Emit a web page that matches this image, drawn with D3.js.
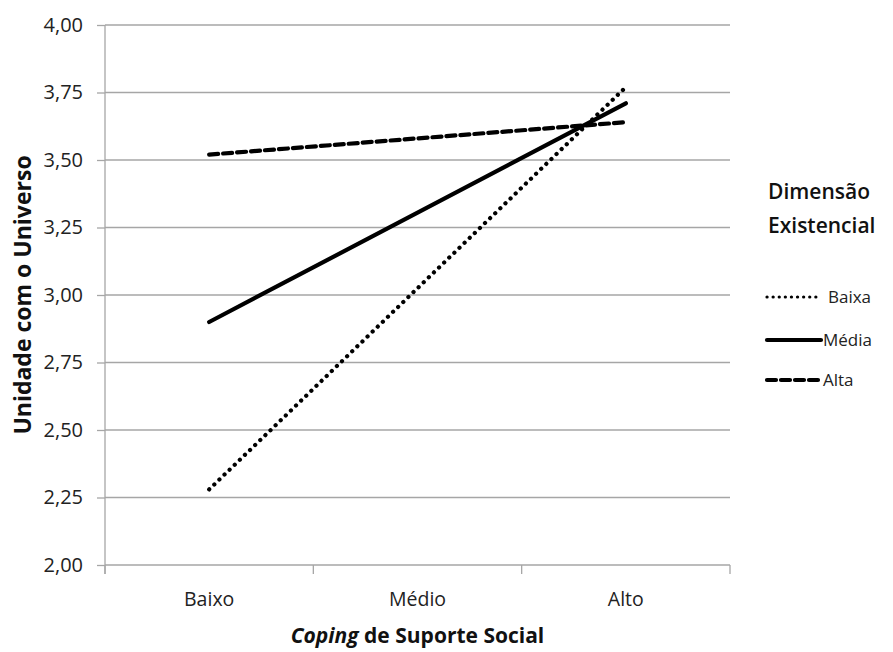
<!DOCTYPE html>
<html><head><meta charset="utf-8">
<script src="https://cdn.jsdelivr.net/npm/d3@7"></script>
<style>body{margin:0;background:#fff}text{font-family:"Open Sans","Noto Sans",sans-serif}</style>
</head><body>
<svg id="c" width="893" height="652"></svg>
<script>
const categories = ["Baixo", "Médio", "Alto"];
const seriesNames = ["Baixa", "Média", "Alta"];
const baixa = [2.28, null, 3.77];
const media = [2.90, null, 3.71];
const alta = [3.52, null, 3.64];
const yTicks = [2.00, 2.25, 2.50, 2.75, 3.00, 3.25, 3.50, 3.75, 4.00];

const svg = d3.select("#c");
const L = 105, R = 730, T = 25, B = 565;
const x = d3.scaleBand().domain(categories).range([L, R]);
const y = d3.scaleLinear().domain([2, 4]).range([B, T]);
const fmt = v => d3.format(".2f")(v).replace(".", ",");

// gridlines
svg.append("g").selectAll("line").data(yTicks).join("line")
  .attr("x1", L).attr("x2", R).attr("y1", d => y(d)).attr("y2", d => y(d))
  .attr("stroke", "#a6a6a6").attr("stroke-width", 1.3);

// y axis
const ya = svg.append("g").attr("transform", `translate(${L},0)`)
  .call(d3.axisLeft(y).tickValues(yTicks).tickFormat(fmt).tickSize(8).tickPadding(14));
ya.select(".domain").attr("stroke", "#a6a6a6").attr("stroke-width", 1.3).attr("d", `M0,${T}V${B+9}`);
ya.selectAll(".tick line").attr("stroke", "#a6a6a6").attr("stroke-width", 1.3);
ya.selectAll(".tick text").attr("font-size", 20).attr("fill", "#222").attr("font-family", "Open Sans");

// x axis
const xa = svg.append("g").attr("transform", `translate(0,${B})`)
  .call(d3.axisBottom(x).tickSize(0).tickPadding(27));
xa.select(".domain").remove();
xa.selectAll(".tick text").attr("font-size", 19.5).attr("fill", "#222").attr("font-family", "Open Sans");
const bounds = [L, ...categories.map(c => x(c) + x.bandwidth())];
svg.append("g").selectAll("line").data(bounds).join("line")
  .attr("x1", d => d).attr("x2", d => d).attr("y1", B).attr("y2", B + 9)
  .attr("stroke", "#a6a6a6").attr("stroke-width", 1.3);

// series
const cx = c => x(c) + x.bandwidth() / 2;
const line = d3.line().defined(d => d.v != null).x(d => cx(d.c)).y(d => y(d.v));
const styles = [
  {data: baixa, dash: "0.1,7", cap: "round"},
  {data: media, dash: null, cap: "round"},
  {data: alta, dash: "9,5", cap: "round"}
];
styles.forEach(s => {
  const pts = categories.map((c, i) => ({c, v: s.data[i]})).filter(d => d.v != null);
  svg.append("path").datum(pts).attr("d", line)
    .attr("fill", "none").attr("stroke", "#000").attr("stroke-width", 4.2)
    .attr("stroke-linecap", s.cap).attr("stroke-dasharray", s.dash);
});

// axis titles
svg.append("text").attr("x", (L + R) / 2).attr("y", 643).attr("text-anchor", "middle")
  .attr("font-size", 21).attr("font-weight", "bold").attr("fill", "#111")
  .html('<tspan font-style="italic">Coping</tspan> de Suporte Social');
svg.append("text").attr("transform", `translate(31,${(T + B) / 2}) rotate(-90)`)
  .attr("text-anchor", "middle").attr("font-size", 23).attr("font-weight", "bold").attr("fill", "#111")
  .text("Unidade com o Universo");

// legend
const lg = svg.append("g");
lg.append("text").attr("x", 768).attr("y", 199).attr("font-size", 21).attr("font-weight", 600).attr("fill", "#111").text("Dimensão");
lg.append("text").attr("x", 768).attr("y", 233).attr("font-size", 21).attr("font-weight", 600).attr("fill", "#111").text("Existencial");
const ly = [297, 340, 380];
styles.forEach((s, i) => {
  lg.append("line").attr("x1", 767).attr("x2", 821).attr("y1", ly[i]).attr("y2", ly[i])
    .attr("stroke", "#000").attr("stroke-width", i === 0 ? 3.2 : 4.2).attr("stroke-linecap", "round")
    .attr("stroke-dasharray", i === 0 ? "0.1,6" : s.dash);
  lg.append("text").attr("x", i === 0 ? 828 : 823).attr("y", ly[i] + 6).attr("font-size", 17).attr("fill", "#222").text(seriesNames[i]);
});
</script>
</body></html>
